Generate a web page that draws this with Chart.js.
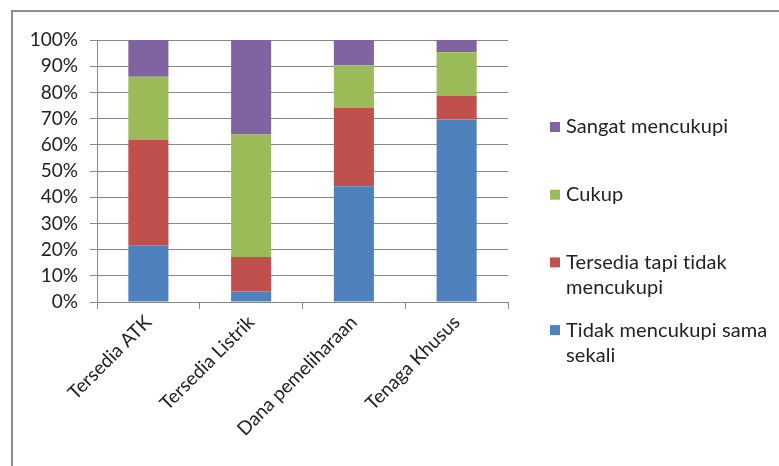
<!DOCTYPE html>
<html>
<head>
<meta charset="utf-8">
<script src="https://cdn.jsdelivr.net/npm/chart.js@4/dist/chart.umd.min.js"></script>
<style>
  html, body { margin: 0; padding: 0; background: #ffffff; }
  #wrap { width: 779px; height: 466px; position: relative; }
</style>
</head>
<body>
<div id="wrap"><canvas id="chart" width="779" height="466"></canvas></div>
<script>
// Categories and stacked shares (percent of respondents)
const categories = ['Tersedia ATK', 'Tersedia Listrik', 'Dana pemeliharaan', 'Tenaga Khusus'];
const seriesNames = ['Tidak mencukupi sama sekali', 'Tersedia tapi tidak mencukupi', 'Cukup', 'Sangat mencukupi'];
const tidakMencukupi = [21.5, 4, 44.2, 69.7];
const tersediaTapiTidak = [40.5, 13.2, 30, 9];
const cukup = [24, 46.7, 16.1, 16.6];
const sangatMencukupi = [14, 36.1, 9.7, 4.7];
const yTicks = [0, 10, 20, 30, 40, 50, 60, 70, 80, 90, 100];

const colors = ['#4F81BD', '#C0504D', '#9BBB59', '#8064A2'];
const FONT = 'Lato, "Open Sans", sans-serif';
const GRID = '#888888';

const values = [tidakMencukupi, tersediaTapiTidak, cukup, sangatMencukupi];
const datasets = seriesNames.map((name, i) => ({
  label: name,
  data: values[i],
  backgroundColor: colors[i],
  borderWidth: 0,
  categoryPercentage: 1,
  barPercentage: 0.39
}));

// Outer frame around the chart
const framePlugin = {
  id: 'frame',
  beforeDraw(chart) {
    const ctx = chart.ctx;
    ctx.save();
    ctx.strokeStyle = '#8c8c8c';
    ctx.lineWidth = 2;
    ctx.strokeRect(12, 11, 820, 520);
    ctx.restore();
  }
};

// Legend on the right, series listed top-down in reverse order, wrapped text
const sideLegend = {
  id: 'sideLegend',
  afterDraw(chart) {
    const ctx = chart.ctx;
    ctx.save();
    ctx.font = '20px ' + FONT;
    if ('letterSpacing' in ctx) ctx.letterSpacing = '0.1px';
    ctx.textBaseline = 'middle';
    const boxX = 550, textX = 566, maxW = 205, lineH = 25;
    const startY = 127, step = 67.7;
    const order = chart.data.datasets.map((d, i) => i).reverse();
    order.forEach((di, k) => {
      const ds = chart.data.datasets[di];
      const y0 = startY + k * step;
      ctx.fillStyle = ds.backgroundColor;
      ctx.fillRect(boxX, y0 - 5, 10, 10);
      ctx.fillStyle = '#222222';
      // word wrap
      const words = ds.label.split(' ');
      const lines = [];
      let cur = '';
      words.forEach(w => {
        const test = cur ? cur + ' ' + w : w;
        if (ctx.measureText(test).width > maxW && cur) { lines.push(cur); cur = w; }
        else cur = test;
      });
      if (cur) lines.push(cur);
      lines.forEach((ln, j) => ctx.fillText(ln, textX, y0 + j * lineH));
    });
    ctx.restore();
  }
};

new Chart(document.getElementById('chart'), {
  type: 'bar',
  data: { labels: categories, datasets },
  plugins: [framePlugin, sideLegend],
  options: {
    responsive: false,
    animation: false,
    events: [],
    layout: { padding: { left: 14, right: 271, top: 40, bottom: 0 } },
    plugins: { legend: { display: false }, tooltip: { enabled: false } },
    scales: {
      x: {
        stacked: true,
        grid: { offset: true, drawOnChartArea: false, color: GRID, tickLength: 7, tickColor: GRID },
        border: { color: GRID, width: 1 },
        ticks: {
          color: '#222222',
          font: { family: FONT, size: 19 },
          minRotation: 45, maxRotation: 45,
          padding: 2
        },
        afterFit(scale) { scale.height = 466 - 302; }
      },
      y: {
        stacked: true,
        min: 0, max: 100,
        afterBuildTicks(scale) { scale.ticks = yTicks.map(v => ({ value: v })); },
        grid: { color: GRID, tickLength: 7, tickColor: GRID },
        border: { color: GRID, width: 1 },
        ticks: {
          color: '#222222',
          font: { family: FONT, size: 19 },
          padding: 12,
          callback: v => v + '%'
        },
        afterFit(scale) { scale.width = 97 - 14; }
      }
    }
  }
});
</script>
</body>
</html>
